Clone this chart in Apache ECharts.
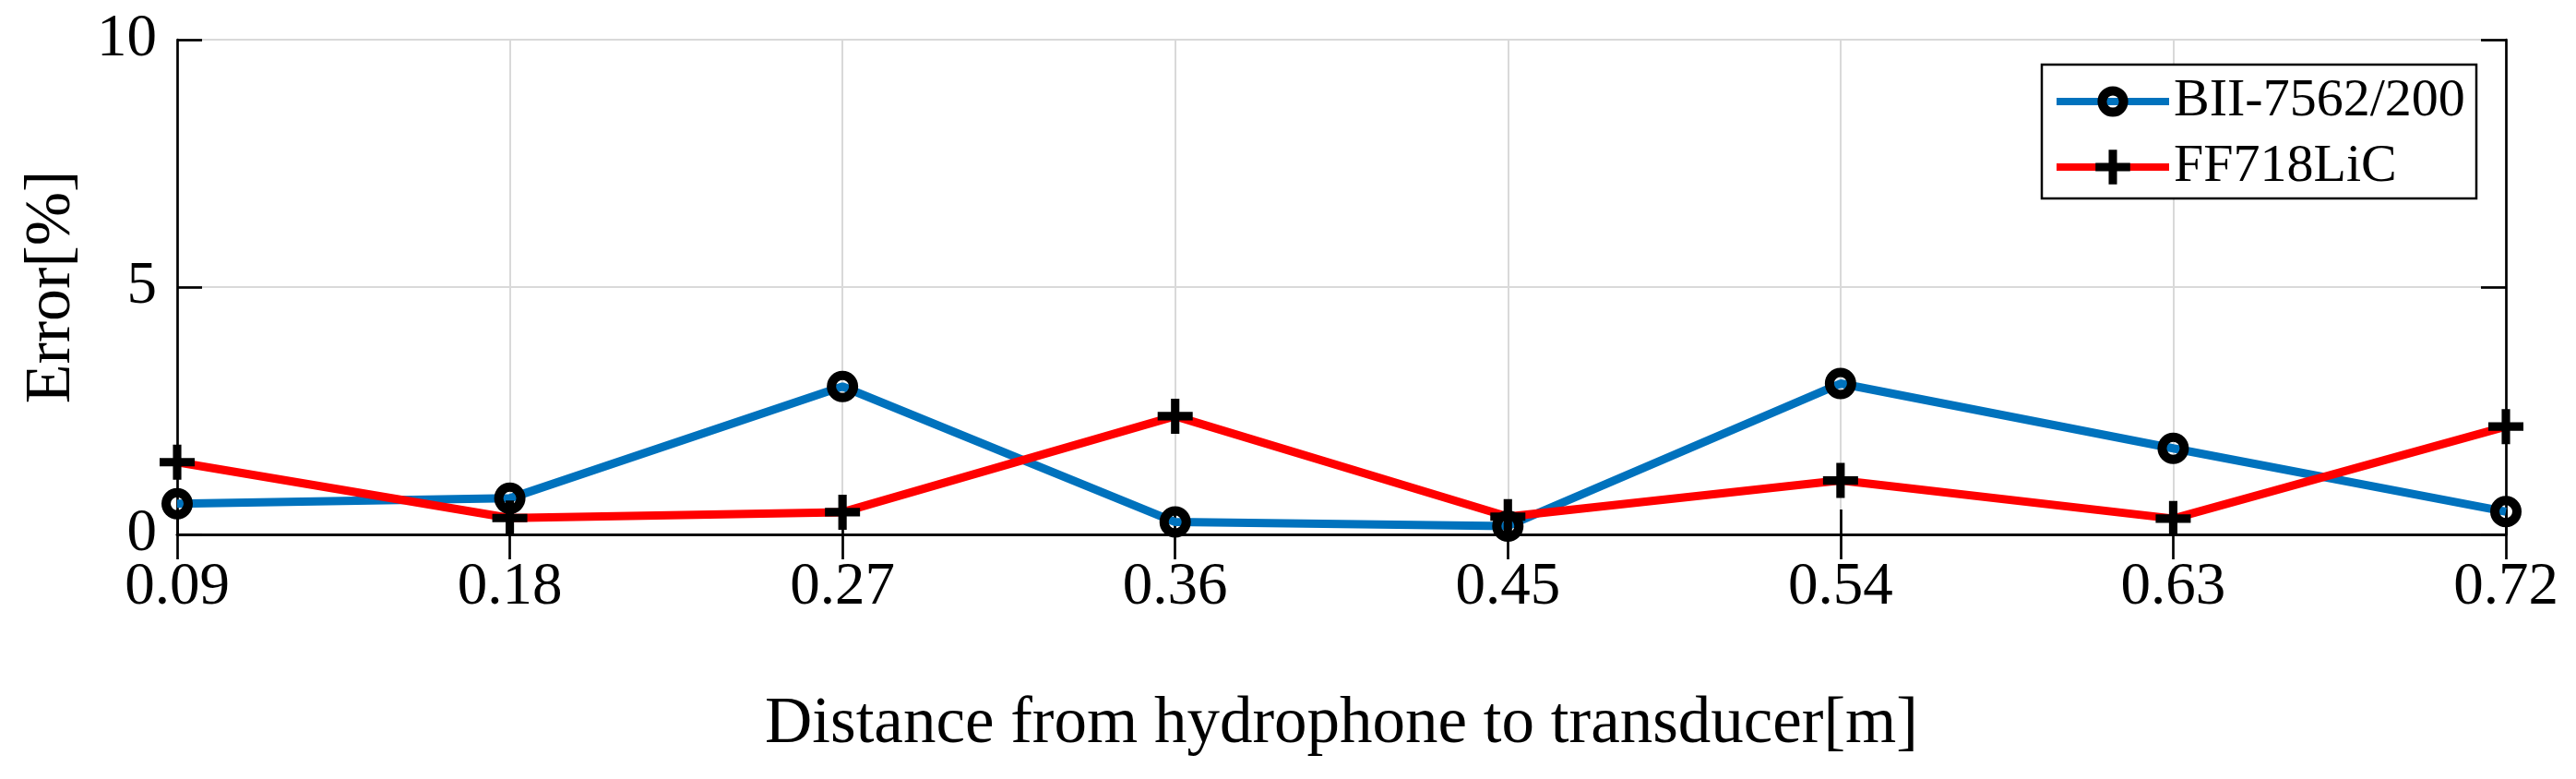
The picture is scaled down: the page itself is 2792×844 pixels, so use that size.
<!DOCTYPE html>
<html><head><meta charset="utf-8">
<script src="https://cdn.jsdelivr.net/npm/echarts@6/dist/echarts.min.js"></script>
<style>html,body{margin:0;padding:0;background:#fff}#c{width:2792px;height:844px}</style>
</head><body><div id="c"></div>
<script>
// ---- data ----
const categories = ['0.09', '0.18', '0.27', '0.36', '0.45', '0.54', '0.63', '0.72'];
const seriesNames = ['BII-7562/200', 'FF718LiC'];
const biiError = [0.62, 0.73, 2.99, 0.25, 0.17, 3.05, 1.74, 0.46];
const ffError = [1.46, 0.33, 0.45, 2.39, 0.36, 1.09, 0.32, 2.18];
const yMin = 0, yMax = 10, yStep = 5;
const xTitle = 'Distance from hydrophone to transducer[m]';
const yTitle = 'Error[%]';

const FONT = '"Liberation Serif", "Times New Roman", serif';
const PLUS = 'path://M3.8,0H6.2V3.8H10V6.2H6.2V10H3.8V6.2H0V3.8H3.8Z';
const AX = { lineStyle: { color: '#000', width: 2.7 } };
const TICK = { show: true, inside: true, length: 27, lineStyle: { color: '#000', width: 2.7 } };
const GRIDC = '#d9d9d9';

const chart = echarts.init(document.getElementById('c'), null, { renderer: 'canvas' });
chart.setOption({
  animation: false,
  backgroundColor: '#fff',
  grid: { left: 192, right: 76, top: 43, bottom: 265, containLabel: false },
  xAxis: [
    {
      type: 'category', data: categories, boundaryGap: false, position: 'bottom',
      axisLine: AX, axisTick: TICK,
      axisLabel: { fontFamily: FONT, fontSize: 65, color: '#000', margin: 25 },
      splitLine: { show: true, lineStyle: { color: GRIDC, width: 2 } },
      name: xTitle, nameLocation: 'middle', nameGap: 171,
      nameTextStyle: { fontFamily: FONT, fontSize: 71, color: '#000' }
    },
    {
      type: 'category', data: categories, boundaryGap: false, position: 'top',
      axisLine: AX, axisTick: TICK, axisLabel: { show: false }, splitLine: { show: false }
    }
  ],
  yAxis: [
    {
      type: 'value', min: yMin, max: yMax, interval: yStep, position: 'left',
      axisLine: { show: true, ...AX }, axisTick: TICK,
      axisLabel: { fontFamily: FONT, fontSize: 65, color: '#000', margin: 22 },
      splitLine: { show: true, lineStyle: { color: GRIDC, width: 2 } },
      name: yTitle, nameLocation: 'middle', nameGap: 100,
      nameTextStyle: { fontFamily: FONT, fontSize: 70, color: '#000' }
    },
    {
      type: 'value', min: yMin, max: yMax, interval: yStep, position: 'right',
      axisLine: { show: true, ...AX }, axisTick: TICK,
      axisLabel: { show: false }, splitLine: { show: false }
    }
  ],
  legend: [
    {
      data: [{ name: seriesNames[0], itemStyle: { color: 'transparent', borderColor: '#000', borderWidth: 10 } }],
      left: 2225, top: 81, padding: 0, itemWidth: 122, itemHeight: 29, selectedMode: false,
      lineStyle: { width: 8 },
      textStyle: { fontFamily: FONT, fontSize: 58, color: '#000' }
    },
    {
      data: [{ name: seriesNames[1], itemStyle: { color: '#000', borderWidth: 0 } }],
      left: 2225, top: 152, padding: 0, itemWidth: 122, itemHeight: 47, selectedMode: false,
      lineStyle: { width: 8 },
      textStyle: { fontFamily: FONT, fontSize: 58, color: '#000' }
    }
  ],
  graphic: [
    { type: 'rect', z: 3, shape: { x: 2213, y: 70, width: 471, height: 145 },
      style: { fill: '#fff', stroke: '#000', lineWidth: 2.5 } }
  ],
  series: [
    {
      name: seriesNames[0], type: 'line', data: biiError, clip: false,
      symbol: 'circle', symbolSize: 24, showAllSymbol: true,
      lineStyle: { color: '#0072BD', width: 9 },
      itemStyle: { color: 'transparent', borderColor: '#000', borderWidth: 10 },
      z: 2
    },
    {
      name: seriesNames[1], type: 'line', data: ffError, clip: false,
      symbol: PLUS, symbolSize: 38, showAllSymbol: true,
      lineStyle: { color: '#FF0000', width: 9 },
      itemStyle: { color: '#000', borderWidth: 0 },
      z: 2
    }
  ]
});
</script></body></html>
